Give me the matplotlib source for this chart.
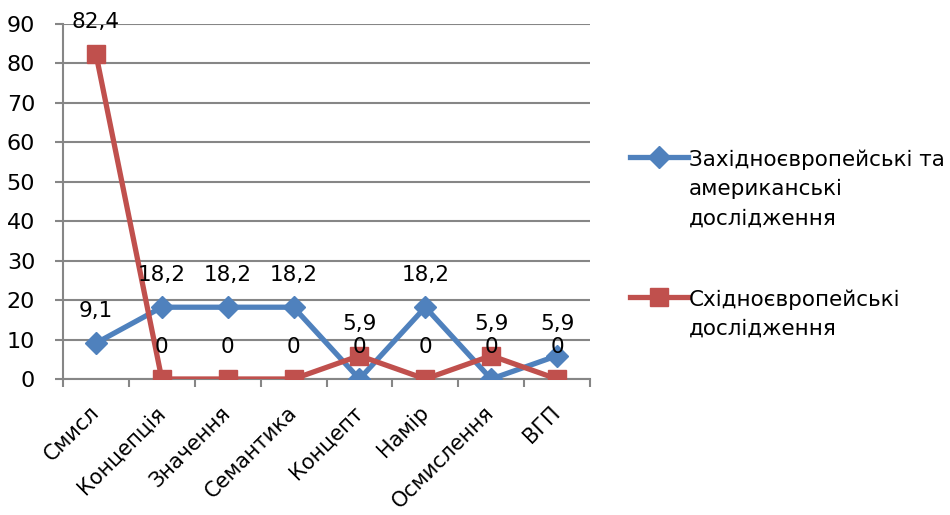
import matplotlib
matplotlib.use("Agg")
import matplotlib.pyplot as plt
from matplotlib.lines import Line2D

plt.rcParams['font.family'] = ['DejaVu Sans']

categories = ["Смисл", "Концепція", "Значення", "Семантика", "Концепт", "Намір", "Осмислення", "ВГП"]
western = [9.1, 18.2, 18.2, 18.2, 0, 18.2, 0, 5.9]
eastern = [82.4, 0, 0, 0, 5.9, 0, 5.9, 0]
western_name = "Західноєвропейські та\nамериканські\nдослідження"
eastern_name = "Східноєвропейські\nдослідження"
yticks = [0, 10, 20, 30, 40, 50, 60, 70, 80, 90]

BLUE = "#4F81BD"
RED = "#C0504D"
GRID = "#868686"

W, H = 950, 515
fig = plt.figure(figsize=(9.5, 5.15), dpi=100)
ax = fig.add_axes([63 / W, 1 - 379 / H, (590 - 63) / W, (379 - 24) / H])

x = list(range(len(categories)))
ax.plot(x, western, color=BLUE, lw=3.8, marker='D', ms=11, zorder=3)
ax.plot(x, eastern, color=RED, lw=3.8, marker='s', ms=13, zorder=4)

def fmt(v):
    s = f"{v:g}"
    return s.replace('.', ',')

for xi, v in zip(x, western):
    ax.annotate(fmt(v), (xi, v), xytext=(0, 23), textcoords='offset points',
                ha='center', va='center', fontsize=15.5, color='black', zorder=5)
for xi, v in zip(x, eastern):
    ax.annotate(fmt(v), (xi, v), xytext=(0, 23), textcoords='offset points',
                ha='center', va='center', fontsize=15.5, color='black', zorder=5)

ax.set_xlim(-0.5, len(categories) - 0.5)
ax.set_ylim(0, 90)
ax.set_yticks(yticks)
ax.set_yticklabels([str(t) for t in yticks], fontsize=16)
ax.yaxis.grid(True, color=GRID, lw=1.5)
ax.set_axisbelow(True)

ax.set_xticks([i + 0.5 for i in range(-1, len(categories))])
ax.set_xticklabels([])
ax.set_xticks(x, minor=True)
ax.set_xticklabels(categories, minor=True, rotation=45, ha='right', va='center',
                   rotation_mode='anchor', fontsize=15)
ax.tick_params(axis='x', which='minor', length=0, pad=22)
ax.tick_params(axis='x', which='major', length=6, width=1.5, color=GRID, direction='out')
ax.tick_params(axis='y', length=6, width=1.5, color=GRID, direction='out', pad=14)

for s in ['top', 'right']:
    ax.spines[s].set_visible(False)
for s in ['left', 'bottom']:
    ax.spines[s].set_color(GRID)
    ax.spines[s].set_linewidth(1.5)

# legend
for (y0, color, marker, ms, name) in [(157, BLUE, 'D', 11, western_name),
                                      (297, RED, 's', 13, eastern_name)]:
    fig.add_artist(Line2D([630 / W, 688 / W], [1 - y0 / H, 1 - y0 / H], transform=fig.transFigure,
                          color=color, lw=3.8))
    fig.add_artist(Line2D([659 / W], [1 - y0 / H], transform=fig.transFigure,
                          color=color, marker=marker, ms=ms, lw=0))
    fig.text(689 / W, 1 - (y0 - 8) / H, name, ha='left', va='top', fontsize=15.5,
             linespacing=1.6)

fig.savefig("out.png", dpi=100)
